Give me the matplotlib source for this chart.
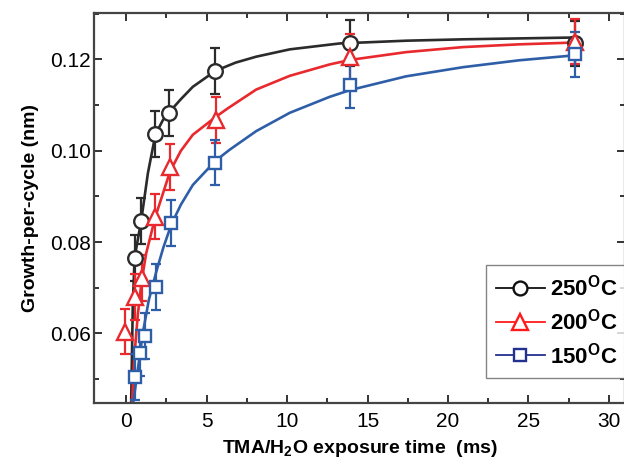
import matplotlib
matplotlib.use("Agg")
import matplotlib.pyplot as plt
from matplotlib.ticker import MultipleLocator

plt.rcParams['font.family'] = ['Liberation Sans', 'DejaVu Sans']
plt.rcParams['mathtext.fontset'] = 'custom'
plt.rcParams['mathtext.rm'] = 'Liberation Sans:bold'
plt.rcParams['mathtext.bf'] = 'Liberation Sans:bold'

labels = ["250$^{\\mathrm{O}}$C", "200$^{\\mathrm{O}}$C", "150$^{\\mathrm{O}}$C"]

# measured points
x250 = [0.52, 0.93, 1.82, 2.69, 5.55, 13.93, 27.88]
y250 = [0.0765, 0.0846, 0.1036, 0.1083, 0.1175, 0.1236, 0.1235]
x200 = [-0.1, 0.52, 1.0, 1.82, 2.73, 5.6, 13.93, 27.88]
y200 = [0.0604, 0.0680, 0.0721, 0.0856, 0.0964, 0.1067, 0.1205, 0.1239]
x150 = [0.52, 0.83, 1.14, 1.87, 2.8, 5.55, 13.93, 27.88]
y150 = [0.0505, 0.0557, 0.0595, 0.0701, 0.0842, 0.0974, 0.1144, 0.1211]
err250 = [0.005] * len(x250)
err200 = [0.005] * len(x200)
err150 = [0.005] * len(x150)

# fitted curves
fx250 = [0.31, 0.41, 0.52, 0.72, 0.93, 1.35, 1.82, 2.28, 2.69, 3.4, 4.14, 5.55,
         6.8, 8.08, 10.16, 13.27, 17.4, 20.93, 24.4, 27.88]
fy250 = [0.0451, 0.0659, 0.0765, 0.0805, 0.0846, 0.0951, 0.1036, 0.1067, 0.1085,
         0.1113, 0.1140, 0.1175, 0.1193, 0.1206, 0.1222, 0.1235, 0.1241, 0.1244,
         0.1246, 0.1248]
fx200 = [0.37, 0.5, 0.72, 0.95, 1.24, 1.82, 2.73, 3.4, 4.14, 5.6, 6.32, 8.08,
         10.16, 12.64, 13.93, 17.4, 20.93, 24.4, 27.88]
fy200 = [0.0451, 0.0545, 0.0640, 0.0712, 0.0775, 0.0856, 0.0955, 0.1000, 0.1035,
         0.1075, 0.1093, 0.1134, 0.1164, 0.1189, 0.1199, 0.1216, 0.1227, 0.1233,
         0.1237]
fx150 = [0.45, 1.03, 1.4, 1.87, 2.3, 2.8, 3.4, 4.14, 5.55, 6.42, 8.08, 10.16,
         12.64, 13.93, 17.4, 20.93, 24.4, 27.88]
fy150 = [0.0451, 0.0600, 0.0672, 0.0735, 0.0787, 0.0838, 0.0882, 0.0925, 0.0978,
         0.1002, 0.1043, 0.1083, 0.1118, 0.1133, 0.1163, 0.1183, 0.1198, 0.1209]

xticks = [0, 5, 10, 15, 20, 25, 30]
yticks = [0.06, 0.08, 0.10, 0.12]

c_blk = '#2b2b2b'
c_red = '#e8292d'
c_blu = '#2f5ea8'

fig = plt.figure(figsize=(6.24, 4.70), dpi=100)
ax = fig.add_axes([94/624, 1-403.3/470, 531/624, (403.3-13.3)/470])

series = [
    (fx250, fy250, x250, y250, err250, c_blk, 'o', 10.5, '#111111'),
    (fx200, fy200, x200, y200, err200, c_red, '^', 11.5, '#ff1a1a'),
    (fx150, fy150, x150, y150, err150, c_blu, 's', 9.0, '#22308f'),
]
handles = []
for fx, fy, xs, ys, es, col, mk, ms, lcol in series:
    ax.plot(fx, fy, '-', color=col, lw=1.9, zorder=2, solid_capstyle='round',
            solid_joinstyle='round')
    ax.errorbar(xs, ys, yerr=es, fmt='none', ecolor=col, elinewidth=1.6,
                capsize=3.5, capthick=1.6, zorder=3)
    ax.plot(xs, ys, linestyle='none', marker=mk, ms=ms, mfc='white', mec=col,
            mew=1.7, zorder=4)
    h, = ax.plot([], [], '-', color=lcol, lw=1.3, marker=mk, ms=ms*0.95,
                 mfc='white', mec=lcol, mew=1.7)
    handles.append(h)

ax.set_xlim(-2, 31)
ax.set_ylim(0.0447, 0.1301)
ax.set_xticks(xticks)
ax.set_xticklabels([str(v) for v in xticks])
ax.set_yticks(yticks)
ax.set_yticklabels([f"{v:.2f}" for v in yticks])
ax.xaxis.set_minor_locator(MultipleLocator(2.5))
ax.yaxis.set_minor_locator(MultipleLocator(0.01))
ax.tick_params(which='both', direction='in', top=True, right=True,
               labelsize=15, colors='#333333', labelcolor='black', width=1.4)
ax.tick_params(which='major', length=6)
ax.tick_params(which='minor', length=3.5)
ax.tick_params(axis='x', pad=6)
ax.tick_params(axis='y', pad=2)
for s in ax.spines.values():
    s.set_linewidth(1.6)
    s.set_color('#444444')

ax.set_xlabel("TMA/H$_{2}$O exposure time  (ms)", fontsize=14,
              fontweight='bold', labelpad=5)
ax.set_ylabel("Growth-per-cycle (nm)", fontsize=14, fontweight='bold',
              labelpad=8)

leg = ax.legend(handles, labels, loc='upper left',
                bbox_to_anchor=((486-94)/531, 1-(265-13.3)/390), frameon=True,
                fancybox=False, edgecolor='#666666', prop={'weight': 'bold', 'size': 16},
                handlelength=2.2, handletextpad=0.25, borderpad=0.45,
                labelspacing=0.35, borderaxespad=0)
leg.get_frame().set_linewidth(1.0)

fig.savefig("out.png", dpi=100)
